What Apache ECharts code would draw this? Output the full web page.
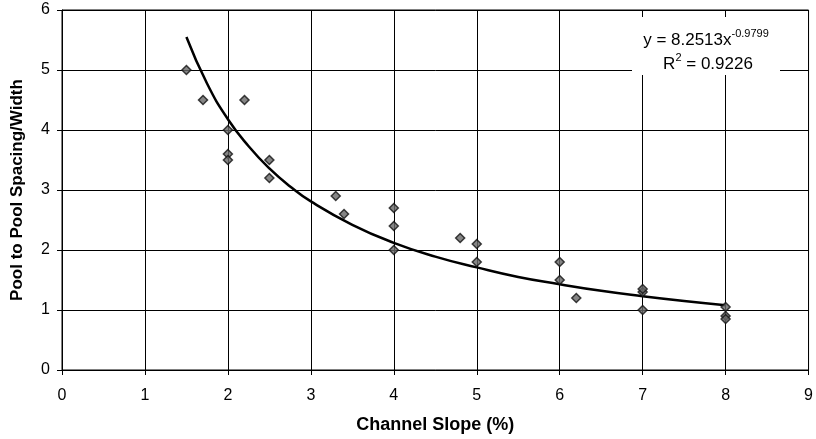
<!DOCTYPE html>
<html>
<head>
<meta charset="utf-8">
<script src="https://cdn.jsdelivr.net/npm/echarts@6/dist/echarts.min.js"></script>
<style>html,body{margin:0;padding:0;background:#fff;}#c{width:816px;height:439px;}</style>
</head>
<body>
<div id="c"></div>
<script>
// Observed data: channel slope (%) vs pool-to-pool spacing / width
const slopeX = [1.5, 1.7, 2.2, 2.0, 2.0, 2.0, 2.5, 2.5, 3.3, 3.4, 4.0, 4.0, 4.0, 4.8, 5.0, 5.0, 6.0, 6.0, 6.2, 7.0, 7.0, 7.0, 8.0, 8.0, 8.0];
const spacingY = [5.0, 4.5, 4.5, 4.0, 3.6, 3.5, 3.5, 3.2, 2.9, 2.6, 2.7, 2.4, 2.0, 2.2, 2.1, 1.8, 1.8, 1.5, 1.2, 1.3, 1.35, 1.0, 1.05, 0.9, 0.85];
// Power trendline
const trendX = [1.5, 1.75, 2, 2.25, 2.5, 2.75, 3, 3.5, 4, 4.5, 5, 5.5, 6, 6.5, 7, 7.5, 8];
const trendY = [5.55, 4.77, 4.18, 3.73, 3.36, 3.06, 2.81, 2.42, 2.12, 1.89, 1.71, 1.55, 1.43, 1.32, 1.23, 1.15, 1.08];
const xTicks = [0, 1, 2, 3, 4, 5, 6, 7, 8, 9];
const yTicks = [0, 1, 2, 3, 4, 5, 6];
const eqText = 'y = 8.2513x';
const eqExp = '-0.9799';
const r2Text = '= 0.9226';

const font = 'Liberation Sans, Arial, sans-serif';
const chart = echarts.init(document.getElementById('c'), null, {renderer: 'canvas'});
chart.setOption({
  backgroundColor: '#fff',
  animation: false,
  grid: {left: 62, right: 7, top: 10, bottom: 69, show: true, borderColor: '#000', borderWidth: 1},
  xAxis: {
    type: 'value', min: xTicks[0], max: xTicks[xTicks.length - 1], interval: 1,
    name: 'Channel Slope (%)', nameLocation: 'middle', nameGap: 46,
    nameTextStyle: {fontFamily: font, fontSize: 18, fontWeight: 'bold', color: '#000'},
    axisLine: {lineStyle: {color: '#000', width: 1}},
    axisTick: {show: true, length: 5, lineStyle: {color: '#000'}},
    axisLabel: {fontFamily: font, fontSize: 16, color: '#000', margin: 18},
    splitLine: {show: true, lineStyle: {color: '#000', width: 1}}
  },
  yAxis: {
    type: 'value', min: yTicks[0], max: yTicks[yTicks.length - 1], interval: 1,
    name: 'Pool to Pool Spacing/Width', nameLocation: 'middle', nameGap: 36,
    nameTextStyle: {fontFamily: font, fontSize: 17, fontWeight: 'bold', color: '#000'},
    axisLine: {show: true, lineStyle: {color: '#000', width: 1}},
    axisTick: {show: true, length: 5, lineStyle: {color: '#000'}},
    axisLabel: {fontFamily: font, fontSize: 16, color: '#000', margin: 12},
    splitLine: {show: true, lineStyle: {color: '#000', width: 1}}
  },
  graphic: [
    {type: 'rect', left: 632, top: 17, shape: {width: 148, height: 58}, style: {fill: '#fff'}, z: 10},
    {type: 'text', x: 706, y: 40, z: 11, style: {
      align: 'center', verticalAlign: 'middle',
      rich: {
        b: {fontFamily: font, fontSize: 17, color: '#000'},
        s: {fontFamily: font, fontSize: 11, color: '#000', padding: [0, 0, 12, 0]}
      },
      text: '{b|' + eqText + '}{s|' + eqExp + '}'
    }},
    {type: 'text', x: 708, y: 64, z: 11, style: {
      align: 'center', verticalAlign: 'middle',
      rich: {
        b: {fontFamily: font, fontSize: 17, color: '#000'},
        s: {fontFamily: font, fontSize: 11, color: '#000', padding: [0, 0, 12, 0]}
      },
      text: '{b|R}{s|2}{b| ' + r2Text + '}'
    }}
  ],
  series: [
    {
      type: 'line', data: trendX.map((x, i) => [x, trendY[i]]), smooth: true,
      showSymbol: false, symbol: 'none',
      lineStyle: {color: '#000', width: 2.5}, z: 3
    },
    {
      type: 'scatter', data: slopeX.map((x, i) => [x, spacingY[i]]),
      symbol: 'diamond', symbolSize: 9,
      itemStyle: {color: '#666', borderColor: '#111', borderWidth: 1.5}, z: 4
    }
  ]
});
</script>
</body>
</html>
